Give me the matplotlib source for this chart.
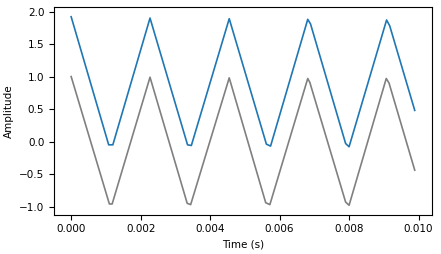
import matplotlib
matplotlib.use("Agg")
from matplotlib import pyplot as plt

# corner points (time in s, amplitude)
t_blue = [0.0, 0.00108, 0.00120, 0.00227, 0.00335, 0.00346, 0.00455,
          0.00562, 0.00574, 0.00681, 0.00689, 0.00790, 0.00800,
          0.00908, 0.00917, 0.00989]
amp_blue = [1.92, -0.05, -0.05, 1.90, -0.05, -0.06, 1.89,
            -0.04, -0.07, 1.88, 1.81, -0.03, -0.08,
            1.87, 1.78, 0.48]

t_gray = [0.0, 0.00110, 0.00118, 0.00227, 0.00334, 0.00344, 0.00455,
          0.00560, 0.00572, 0.00681, 0.00687, 0.00790, 0.00800,
          0.00907, 0.00915, 0.00989]
amp_gray = [1.00, -0.96, -0.96, 0.99, -0.95, -0.97, 0.98,
            -0.94, -0.97, 0.97, 0.91, -0.93, -0.98,
            0.97, 0.90, -0.44]

plt.rcParams['font.size'] = 7.5

fig = plt.figure(figsize=(4.41, 2.54), dpi=100)
ax = fig.add_axes([0.1224, 0.1547, 0.857, 0.8165])

ax.plot(t_blue, amp_blue, color='tab:blue', lw=1.2)
ax.plot(t_gray, amp_gray, color='gray', lw=1.2)

ax.set_xlabel('Time (s)')
ax.set_ylabel('Amplitude')
ax.set_yticks([-1.0, -0.5, 0.0, 0.5, 1.0, 1.5, 2.0])

fig.savefig('out.png', dpi=100)
